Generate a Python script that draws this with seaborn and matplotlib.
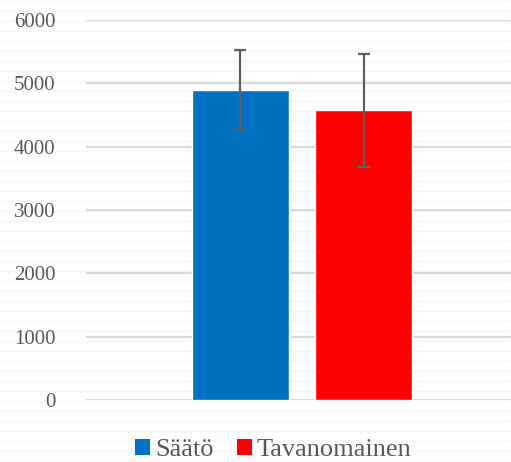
import numpy as np
import pandas as pd
import matplotlib.pyplot as plt
import seaborn as sns
from matplotlib.patches import Patch

# Data
groups = ['Säätö', 'Tavanomainen']
means = [4890, 4580]
err_low = [630, 900]
err_high = [630, 880]
colors = ['#0070C0', '#FF0000']
yticks = [0, 1000, 2000, 3000, 4000, 5000, 6000]

df = pd.DataFrame({'group': groups, 'value': means})

sns.set_style('white')
plt.rcParams['font.family'] = ['Liberation Serif', 'DejaVu Serif']
text_col = '#595959'

fig = plt.figure(figsize=(5.11, 4.62), dpi=100)
fig.patch.set_facecolor('white')

# faint zigzag background texture
W, H = 511, 462
yy, xx = np.mgrid[0:H, 0:W]
phase = (xx % 8) / 8.0
tri = 2.0 * np.abs(2 * phase - 1)
dist = np.abs(((yy - tri) % 10) - 5) - 4.3
tex = np.where(dist > 0, 0.955, 1.0)
bg = fig.add_axes([0, 0, 1, 1], zorder=-1)
bg.imshow(tex, cmap='gray', vmin=0, vmax=1, aspect='auto', interpolation='nearest')
bg.axis('off')

ax = fig.add_axes([86 / W, 62 / H, 432 / W, 380 / H])
ax.set_facecolor('none')

sns.barplot(data=df, x='group', y='value', hue='group', palette=colors,
            width=0.79, legend=False, saturation=1, ax=ax, zorder=3)
ax.errorbar(x=np.arange(len(groups)), y=means, yerr=[err_low, err_high],
            fmt='none', ecolor='#5f5f5f', elinewidth=1.6, capsize=4.2,
            capthick=1.6, zorder=4)

ax.set_xlim(-1.256, 2.256)
ax.set_ylim(0, 6000)
ax.set_yticks(yticks)
ax.set_yticklabels([str(t) for t in yticks], fontsize=15, color=text_col,
                   family='Liberation Serif')
ax.set_xticks([])
ax.set_xlabel('')
ax.set_ylabel('')
ax.yaxis.grid(True, color='#d9d9d9', linewidth=1.5, zorder=0)
ax.set_axisbelow(True)
ax.tick_params(axis='y', length=0, pad=22)
for s in ax.spines.values():
    s.set_visible(False)

handles = [Patch(facecolor=c, edgecolor='none') for c in colors]
fig.legend(handles, groups, loc='center', bbox_to_anchor=(0.535, 0.026),
           ncol=2, frameon=False, prop={'family': 'Liberation Serif', 'size': 19},
           handlelength=0.55, handleheight=0.55, handletextpad=0.2,
           columnspacing=0.9, labelcolor=text_col)

fig.savefig('out.png', dpi=100)
